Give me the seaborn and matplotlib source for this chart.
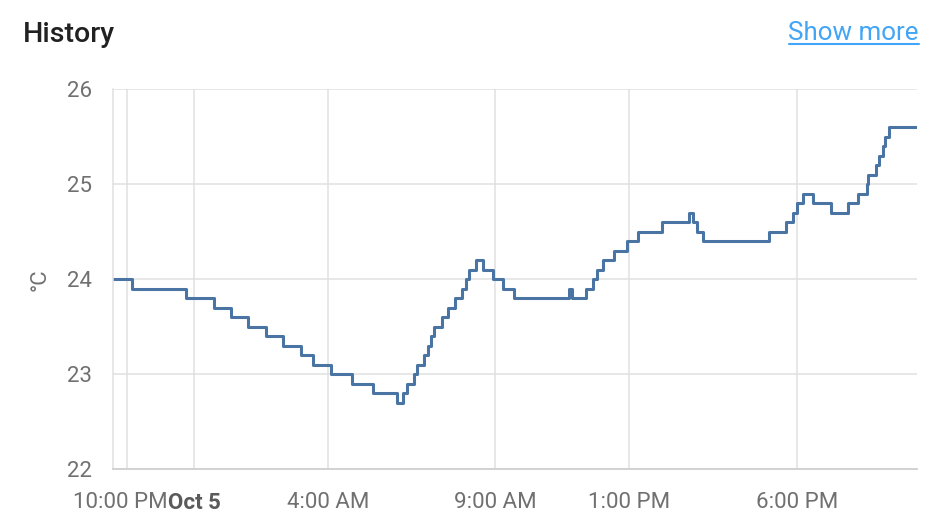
import pandas as pd
import numpy as np
import seaborn as sns
import matplotlib.pyplot as plt
import matplotlib.dates as mdates
from matplotlib.lines import Line2D
from matplotlib.transforms import ScaledTranslation

# temperature history (step changes)
times = ["2023-10-04 21:35", "2023-10-04 22:09", "2023-10-04 23:46", "2023-10-05 00:36",
         "2023-10-05 01:06", "2023-10-05 01:37", "2023-10-05 02:09", "2023-10-05 02:39",
         "2023-10-05 03:12", "2023-10-05 03:33", "2023-10-05 04:05", "2023-10-05 04:43",
         "2023-10-05 05:21", "2023-10-05 06:04", "2023-10-05 06:14", "2023-10-05 06:21",
         "2023-10-05 06:34", "2023-10-05 06:39", "2023-10-05 06:52", "2023-10-05 06:59",
         "2023-10-05 07:04", "2023-10-05 07:10", "2023-10-05 07:24", "2023-10-05 07:35",
         "2023-10-05 07:47", "2023-10-05 08:00", "2023-10-05 08:07", "2023-10-05 08:13",
         "2023-10-05 08:25", "2023-10-05 08:38", "2023-10-05 08:56", "2023-10-05 09:13",
         "2023-10-05 09:33", "2023-10-05 11:12", "2023-10-05 11:17", "2023-10-05 11:42",
         "2023-10-05 11:55", "2023-10-05 12:02", "2023-10-05 12:13", "2023-10-05 12:32",
         "2023-10-05 12:56", "2023-10-05 13:15", "2023-10-05 13:58", "2023-10-05 14:47",
         "2023-10-05 14:54", "2023-10-05 15:01", "2023-10-05 15:12", "2023-10-05 17:10",
         "2023-10-05 17:40", "2023-10-05 17:53", "2023-10-05 18:00", "2023-10-05 18:11",
         "2023-10-05 18:29", "2023-10-05 19:01", "2023-10-05 19:31", "2023-10-05 19:49",
         "2023-10-05 20:05", "2023-10-05 20:07", "2023-10-05 20:21", "2023-10-05 20:27",
         "2023-10-05 20:34", "2023-10-05 20:38", "2023-10-05 20:45", "2023-10-05 21:35"]
temps = [24.0, 23.9, 23.8, 23.7,
         23.6, 23.5, 23.4, 23.3,
         23.2, 23.1, 23.0, 22.9,
         22.8, 22.7, 22.8, 22.9,
         23.0, 23.1, 23.2, 23.3,
         23.4, 23.5, 23.6, 23.7,
         23.8, 23.9, 24.0, 24.1,
         24.2, 24.1, 24.0, 23.9,
         23.8, 23.9, 23.8, 23.9,
         24.0, 24.1, 24.2, 24.3,
         24.4, 24.5, 24.6, 24.7,
         24.6, 24.5, 24.4, 24.5,
         24.6, 24.7, 24.8, 24.9,
         24.8, 24.7, 24.8, 24.9,
         25.0, 25.1, 25.2, 25.3,
         25.4, 25.5, 25.6, 25.6]

tick_times = ["2023-10-04 22:00", "2023-10-05 00:00", "2023-10-05 04:00",
              "2023-10-05 09:00", "2023-10-05 13:00", "2023-10-05 18:00"]
tick_labels = ["10:00 PM", "Oct 5", "4:00 AM", "9:00 AM", "1:00 PM", "6:00 PM"]
y_ticks = [22, 23, 24, 25, 26]

df = pd.DataFrame({"time": pd.to_datetime(times), "temp": temps})

sns.set_theme(style="white")
plt.rcParams['font.family'] = ['Roboto', 'DejaVu Sans']

GRID = "#e0e0e0"
TXT = "#707070"

fig = plt.figure(figsize=(9.4, 5.32), dpi=100)
ax = fig.add_axes([113 / 940, 1 - 469 / 532, (917 - 113) / 940, (469 - 89) / 532])

sns.lineplot(data=df, x="time", y="temp", ax=ax, color="#4a74a3",
             linewidth=2.2, drawstyle="steps-post")

ax.set_xlim(pd.Timestamp("2023-10-04 21:35"), pd.Timestamp("2023-10-05 21:35"))
ax.set_ylim(22, 26)
ax.set_xticks(mdates.date2num(pd.to_datetime(tick_times)))
ax.set_xticklabels(tick_labels)
ax.set_yticks(y_ticks)
ax.set_yticklabels([str(v) for v in y_ticks])

ax.grid(True, color=GRID, linewidth=1.1)
ax.set_axisbelow(True)
ax.tick_params(axis="both", length=10, width=1.1, color=GRID, labelsize=16,
               labelcolor=TXT, pad=5)
ax.tick_params(axis="x", pad=6.5)
for lbl in ax.get_xticklabels():
    if lbl.get_text() == "Oct 5":
        lbl.set_fontweight("bold")
        lbl.set_color("#5a5a5a")
    elif lbl.get_text() == "10:00 PM":
        # pushed left a little, as in the reference
        lbl.set_transform(lbl.get_transform() + ScaledTranslation(-0.07, 0, fig.dpi_scale_trans))

for s in ["top", "right"]:
    ax.spines[s].set_visible(False)
ax.spines["left"].set_color(GRID)
ax.spines["left"].set_linewidth(1.1)
ax.spines["bottom"].set_color("#cfcfcf")
ax.spines["bottom"].set_linewidth(1.3)
ax.set_xlabel("")
ax.set_ylabel("")

fig.text(40 / 940, 1 - 280 / 532, "°C", rotation=90, ha="center", va="center",
         fontsize=16, color=TXT)

fig.text(23 / 940, 1 - 34 / 532, "History", ha="left", va="center",
         fontsize=20.5, fontweight="medium", color="#212121")
fig.text(919 / 940, 1 - 33 / 532, "Show more", ha="right", va="center",
         fontsize=18.7, color="#42a5f5")
fig.add_artist(Line2D([789 / 940, 919 / 940], [1 - 44 / 532, 1 - 44 / 532],
                      transform=fig.transFigure, color="#42a5f5", linewidth=1.5))

fig.savefig("out.png", dpi=100, facecolor="white")
